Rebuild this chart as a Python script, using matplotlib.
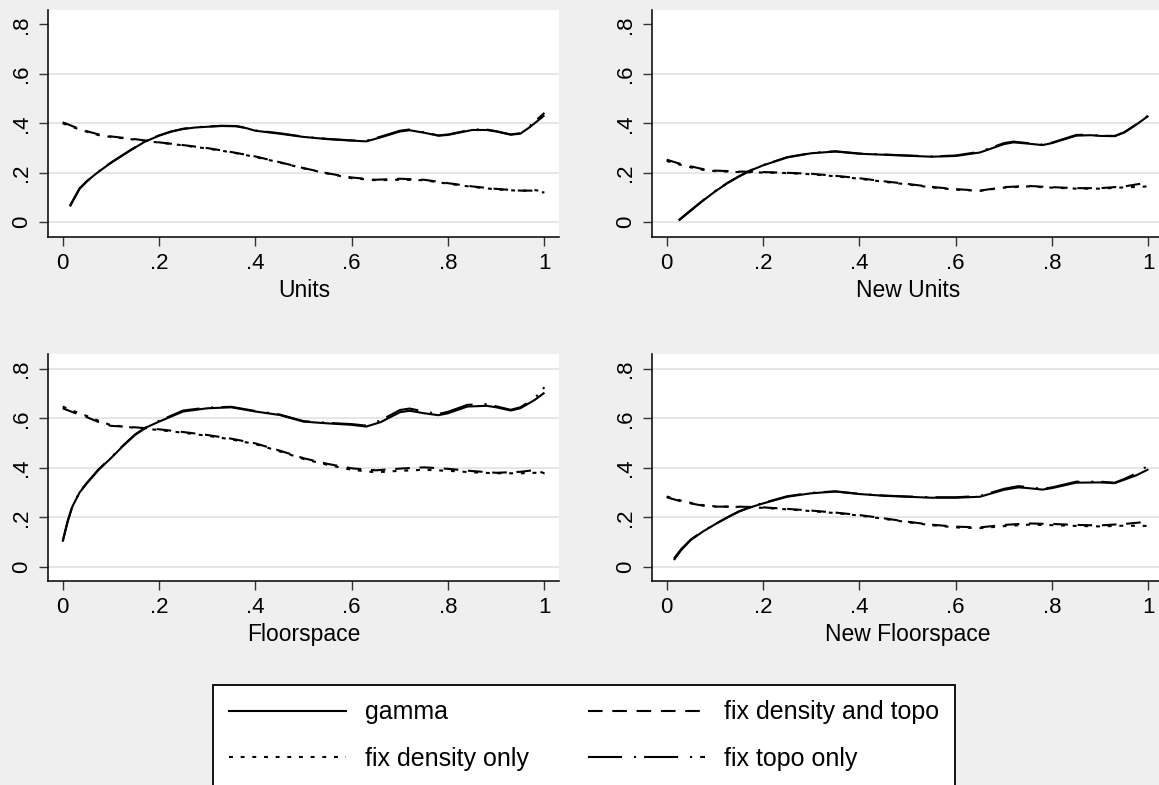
import matplotlib
matplotlib.use("Agg")
import matplotlib.pyplot as plt
from matplotlib.lines import Line2D

plt.rcParams['font.family'] = ['Liberation Sans', 'DejaVu Sans']
plt.rcParams['lines.scale_dashes'] = False

# ---------------- data ----------------
panel_titles = ["Units", "New Units", "Floorspace", "New Floorspace"]
x_ticks = [0, 0.2, 0.4, 0.6, 0.8, 1.0]
x_tick_labels = ["0", ".2", ".4", ".6", ".8", "1"]
y_ticks = [0, 0.2, 0.4, 0.6, 0.8]
y_tick_labels = ["0", ".2", ".4", ".6", ".8"]
series_labels = ["gamma", "fix density and topo", "fix density only", "fix topo only"]

# Units
units_x_up = [0.015, 0.025, 0.035, 0.05, 0.065, 0.08, 0.1, 0.12, 0.14, 0.17,
              0.2, 0.225, 0.25, 0.275, 0.3, 0.33, 0.36, 0.38, 0.4, 0.45,
              0.5, 0.55, 0.6, 0.63, 0.66, 0.7, 0.72, 0.75, 0.78, 0.8,
              0.85, 0.88, 0.9, 0.93, 0.95, 0.97, 1.0]
units_gamma = [0.064, 0.10, 0.135, 0.165, 0.19, 0.212, 0.24, 0.265, 0.29, 0.325,
               0.35, 0.366, 0.377, 0.383, 0.386, 0.389, 0.388, 0.381, 0.37, 0.358,
               0.345, 0.336, 0.33, 0.327, 0.343, 0.367, 0.372, 0.362, 0.35, 0.353,
               0.373, 0.373, 0.367, 0.354, 0.358, 0.385, 0.432]
units_topo = [0.066, 0.102, 0.137, 0.166, 0.191, 0.213, 0.241, 0.266, 0.291, 0.326,
              0.351, 0.367, 0.378, 0.384, 0.387, 0.39, 0.389, 0.382, 0.371, 0.36,
              0.346, 0.337, 0.331, 0.329, 0.346, 0.37, 0.375, 0.364, 0.351, 0.355,
              0.375, 0.375, 0.368, 0.355, 0.36, 0.39, 0.442]
units_x_down = [0, 0.025, 0.05, 0.075, 0.1, 0.15, 0.2, 0.25, 0.3, 0.35, 0.4, 0.45,
                0.5, 0.55, 0.6, 0.65, 0.7, 0.75, 0.8, 0.85, 0.9, 0.95, 0.98, 1.0]
units_dens_topo = [0.404, 0.385, 0.368, 0.355, 0.347, 0.336, 0.323, 0.312, 0.3, 0.284, 0.266, 0.243,
                   0.219, 0.198, 0.181, 0.172, 0.176, 0.172, 0.158, 0.145, 0.135, 0.128, 0.128, 0.12]
units_dens = [0.4, 0.382, 0.366, 0.352, 0.345, 0.334, 0.322, 0.311, 0.298, 0.283, 0.264, 0.242,
              0.218, 0.197, 0.178, 0.17, 0.172, 0.17, 0.156, 0.143, 0.133, 0.127, 0.13, 0.125]

# New Units
nunits_x_up = [0.025, 0.05, 0.075, 0.1, 0.125, 0.15, 0.175, 0.2, 0.25, 0.3,
               0.35, 0.4, 0.45, 0.5, 0.55, 0.6, 0.65, 0.7, 0.72, 0.75,
               0.78, 0.8, 0.85, 0.88, 0.9, 0.93, 0.95, 0.975, 1.0]
nunits_gamma = [0.007, 0.047, 0.087, 0.124, 0.157, 0.185, 0.21, 0.23, 0.262, 0.279,
                0.286, 0.277, 0.273, 0.269, 0.265, 0.268, 0.282, 0.316, 0.323, 0.318,
                0.312, 0.32, 0.35, 0.352, 0.349, 0.348, 0.363, 0.395, 0.43]
nunits_topo = [0.009, 0.049, 0.088, 0.125, 0.158, 0.186, 0.211, 0.231, 0.263, 0.28,
               0.287, 0.278, 0.274, 0.27, 0.266, 0.27, 0.285, 0.32, 0.326, 0.32,
               0.314, 0.322, 0.353, 0.354, 0.35, 0.349, 0.364, 0.396, 0.432]
nunits_x_down = [0, 0.025, 0.05, 0.075, 0.1, 0.15, 0.2, 0.25, 0.3, 0.35, 0.4, 0.45,
                 0.5, 0.55, 0.6, 0.65, 0.7, 0.75, 0.8, 0.85, 0.9, 0.95, 1.0]
nunits_dens_topo = [0.253, 0.238, 0.226, 0.215, 0.209, 0.205, 0.203, 0.2, 0.196, 0.188, 0.178, 0.166,
                    0.155, 0.143, 0.134, 0.128, 0.142, 0.147, 0.142, 0.138, 0.138, 0.145, 0.161]
nunits_dens = [0.248, 0.234, 0.222, 0.212, 0.207, 0.203, 0.201, 0.199, 0.194, 0.186, 0.176, 0.164,
               0.153, 0.141, 0.132, 0.127, 0.14, 0.145, 0.14, 0.136, 0.136, 0.141, 0.145]

# Floorspace
floor_x_up = [0, 0.01, 0.02, 0.035, 0.05, 0.075, 0.1, 0.125, 0.15, 0.175,
              0.2, 0.25, 0.3, 0.35, 0.4, 0.45, 0.5, 0.55, 0.6, 0.63,
              0.66, 0.7, 0.72, 0.75, 0.78, 0.8, 0.84, 0.88, 0.9, 0.93,
              0.95, 0.98, 1.0]
floor_gamma = [0.101, 0.18, 0.243, 0.3, 0.337, 0.393, 0.439, 0.488, 0.533, 0.565,
               0.587, 0.628, 0.641, 0.645, 0.628, 0.614, 0.587, 0.58, 0.574, 0.567,
               0.585, 0.625, 0.631, 0.621, 0.613, 0.621, 0.648, 0.651, 0.645, 0.632,
               0.641, 0.675, 0.704]
floor_topo = [0.104, 0.183, 0.245, 0.302, 0.339, 0.395, 0.441, 0.49, 0.535, 0.567,
              0.59, 0.632, 0.644, 0.647, 0.63, 0.616, 0.589, 0.582, 0.577, 0.571,
              0.592, 0.634, 0.64, 0.628, 0.618, 0.627, 0.655, 0.658, 0.649, 0.635,
              0.645, 0.682, 0.726]
floor_x_down = [0, 0.025, 0.05, 0.075, 0.1, 0.15, 0.2, 0.25, 0.3, 0.35, 0.4, 0.45,
                0.5, 0.55, 0.6, 0.65, 0.7, 0.75, 0.8, 0.85, 0.9, 0.95, 0.98, 1.0]
floor_dens_topo = [0.641, 0.622, 0.605, 0.585, 0.57, 0.564, 0.556, 0.545, 0.533, 0.518, 0.499, 0.47,
                   0.439, 0.416, 0.398, 0.39, 0.397, 0.402, 0.396, 0.387, 0.38, 0.384, 0.391, 0.378]
floor_dens = [0.648, 0.628, 0.61, 0.59, 0.573, 0.562, 0.553, 0.542, 0.53, 0.515, 0.496, 0.467,
              0.436, 0.412, 0.392, 0.382, 0.388, 0.392, 0.388, 0.382, 0.378, 0.378, 0.38, 0.376]

# New Floorspace
nfloor_x_up = [0.015, 0.03, 0.05, 0.075, 0.1, 0.125, 0.15, 0.175, 0.2, 0.25,
               0.3, 0.35, 0.4, 0.45, 0.5, 0.55, 0.6, 0.65, 0.7, 0.73,
               0.75, 0.78, 0.8, 0.85, 0.9, 0.93, 0.95, 0.975, 1.0]
nfloor_gamma = [0.027, 0.067, 0.108, 0.142, 0.171, 0.198, 0.223, 0.241, 0.256, 0.283,
                0.297, 0.304, 0.294, 0.287, 0.283, 0.279, 0.279, 0.283, 0.311, 0.321,
                0.318, 0.312, 0.318, 0.34, 0.341, 0.338, 0.352, 0.37, 0.394]
nfloor_topo = [0.033, 0.071, 0.11, 0.144, 0.172, 0.199, 0.224, 0.242, 0.258, 0.285,
               0.299, 0.305, 0.295, 0.288, 0.284, 0.281, 0.281, 0.286, 0.315, 0.326,
               0.322, 0.315, 0.321, 0.344, 0.344, 0.34, 0.355, 0.378, 0.41]
nfloor_x_down = [0, 0.025, 0.05, 0.075, 0.1, 0.15, 0.2, 0.25, 0.3, 0.35, 0.4, 0.45,
                 0.5, 0.55, 0.6, 0.65, 0.7, 0.75, 0.8, 0.85, 0.9, 0.95, 1.0]
nfloor_dens_topo = [0.281, 0.267, 0.256, 0.247, 0.243, 0.243, 0.24, 0.234, 0.227, 0.219, 0.209, 0.196,
                    0.182, 0.17, 0.162, 0.159, 0.169, 0.175, 0.173, 0.169, 0.167, 0.173, 0.182]
nfloor_dens = [0.284, 0.27, 0.258, 0.249, 0.244, 0.242, 0.238, 0.232, 0.225, 0.217, 0.207, 0.194,
               0.18, 0.168, 0.159, 0.156, 0.164, 0.17, 0.168, 0.165, 0.163, 0.166, 0.165]

panels = [
    (units_x_up, units_gamma, units_topo, units_x_down, units_dens_topo, units_dens),
    (nunits_x_up, nunits_gamma, nunits_topo, nunits_x_down, nunits_dens_topo, nunits_dens),
    (floor_x_up, floor_gamma, floor_topo, floor_x_down, floor_dens_topo, floor_dens),
    (nfloor_x_up, nfloor_gamma, nfloor_topo, nfloor_x_down, nfloor_dens_topo, nfloor_dens),
]

# ---------------- style ----------------
W, H = 1159, 785
BG = '#EFEFEF'
GRID = '#E4E4E4'
LW = 1.5
styles = {
    "gamma": dict(linestyle='-'),
    "fix density and topo": dict(dashes=(10.5, 7)),
    "fix density only": dict(dashes=(2.8, 5.6)),
    "fix topo only": dict(dashes=(24.5, 8.6, 1.5, 5.8)),
}

fig = plt.figure(figsize=(W / 100, H / 100), dpi=100, facecolor=BG)

# pixel boxes: left, right, top, bottom
boxes = [
    (48.3, 559.4, 10.0, 237.3),
    (652.3, 1163.4, 10.0, 237.3),
    (48.3, 559.4, 354.0, 580.7),
    (652.3, 1163.4, 354.0, 580.7),
]
ylims = [(-0.0606, 0.8578), (-0.0606, 0.8578), (-0.0567, 0.8607), (-0.0567, 0.8607)]
grid_levels = [[0, 0.2, 0.4, 0.6], [0, 0.2, 0.4, 0.6], y_ticks, y_ticks]

for i, (title, data) in enumerate(zip(panel_titles, panels)):
    l, r, t, b = boxes[i]
    ax = fig.add_axes([l / W, 1 - b / H, (r - l) / W, (b - t) / H])
    ax.set_facecolor('white')
    ax.set_xlim(-0.0299, 1.0311)
    ax.set_ylim(*ylims[i])
    for g in grid_levels[i]:
        ax.axhline(g, color=GRID, lw=1.3, zorder=0)
    xu, g_, tp, xd, dt, dn = data
    ax.plot(xu, g_, color='black', lw=LW, solid_capstyle='butt', **styles["gamma"])
    ax.plot(xd, dt, color='black', lw=LW, **styles["fix density and topo"])
    ax.plot(xd, dn, color='black', lw=LW, **styles["fix density only"])
    ax.plot(xu, tp, color='black', lw=LW, **styles["fix topo only"])
    for s in ['top', 'right']:
        ax.spines[s].set_visible(False)
    for s in ['left', 'bottom']:
        ax.spines[s].set_linewidth(1.1)
        ax.spines[s].set_color('black')
    ax.set_xticks(x_ticks, x_tick_labels)
    ax.set_yticks(y_ticks, y_tick_labels)
    ax.tick_params(axis='both', direction='out', length=6.5, width=1.0,
                   labelsize=16, pad=5, color='#333333')
    ax.tick_params(axis='y', labelrotation=90)
    for lab in ax.get_yticklabels():
        lab.set_va('center')
    ax.set_xlabel(title, fontsize=16.5, labelpad=3.5)

handles = [Line2D([], [], color='black', lw=LW, **styles[s]) for s in
           ["gamma", "fix density only", "fix density and topo", "fix topo only"]]
labels = ["gamma", "fix density only", "fix density and topo", "fix topo only"]
leg = fig.legend(handles, labels, ncol=2, loc='upper left',
                 bbox_to_anchor=(213 / W, 1 - 685 / H), borderaxespad=0,
                 frameon=True, fancybox=False, shadow=False, framealpha=1,
                 edgecolor='black', facecolor='white', fontsize=18,
                 handlelength=4.7, handletextpad=0.76, columnspacing=2.36,
                 borderpad=0.62, labelspacing=0.9)
leg.get_frame().set_linewidth(1.3)

fig.savefig('out.png', dpi=100, facecolor=BG)
